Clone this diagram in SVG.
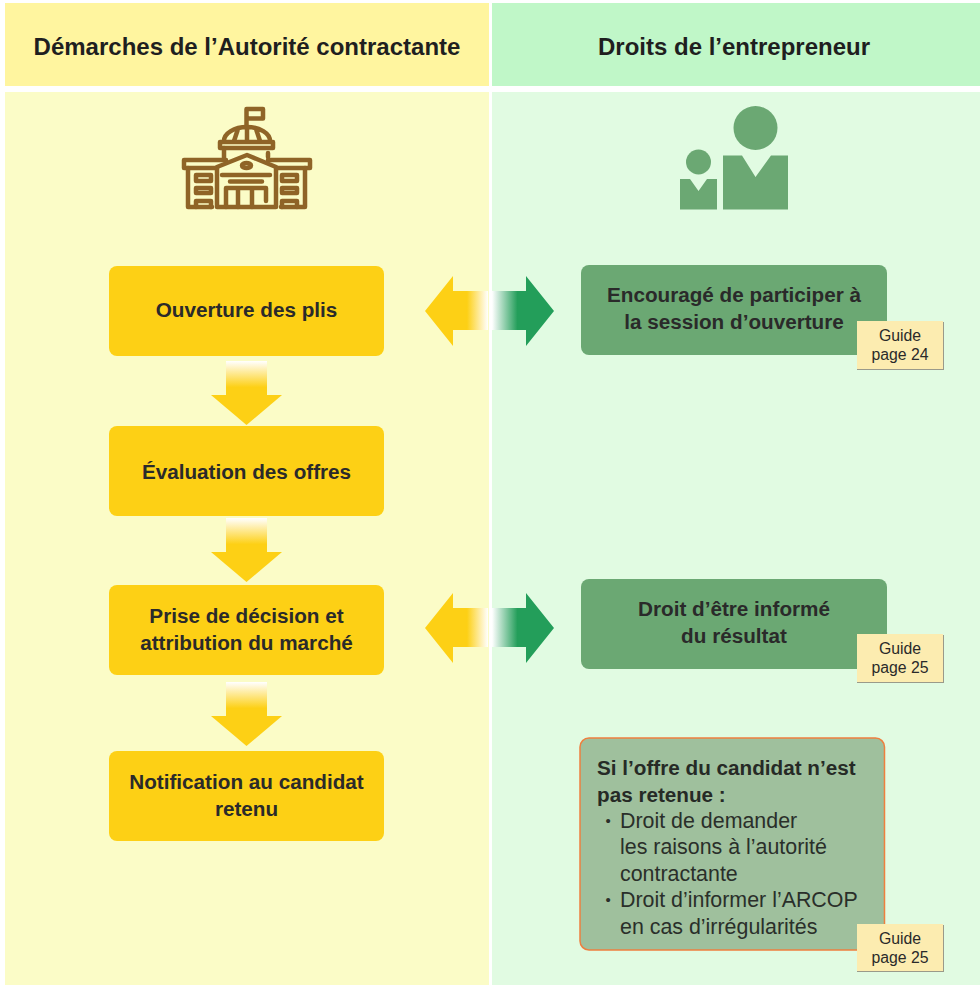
<svg xmlns="http://www.w3.org/2000/svg" width="980" height="985" viewBox="0 0 980 985">
<style>
text{font-family:"Liberation Sans",Arial,sans-serif}
.h{font-size:24px;font-weight:700;fill:#1f1f1f;text-anchor:middle}
.n{font-size:20.700px;font-weight:700;fill:#2a2a2a;text-anchor:middle}
.y{fill:#fdd015}
.g{fill:#6ba873}
.tag{fill:#fcecb0}
.tagshadow{fill:#9a9a8a}
.t{font-size:15.800px;fill:#2a2a2a;text-anchor:middle}
.b{font-size:21.400px;fill:#2a2f2a}
.dot{font-size:15px;fill:#2a2f2a}
.bb{font-size:20.700px;font-weight:700;fill:#262a26}
.ic{fill:none;stroke:#8f6427;stroke-width:4.500;stroke-linecap:round;stroke-linejoin:round}
</style>
<defs>
<linearGradient id="gl" x1="453" y1="0" x2="488" y2="0" gradientUnits="userSpaceOnUse"><stop offset="0.4" stop-color="#fdd015"/><stop offset="1" stop-color="#fff"/></linearGradient>
<linearGradient id="gr" x1="492" y1="0" x2="526" y2="0" gradientUnits="userSpaceOnUse"><stop offset="0" stop-color="#fff"/><stop offset="0.75" stop-color="#239e5a"/></linearGradient>
<linearGradient id="gd" x1="0" y1="0" x2="0" y2="1"><stop offset="0" stop-color="#fff"/><stop offset="0.75" stop-color="#fdd015"/></linearGradient>
<path id="la" d="M425 311L453 276V291H488V330H453V346Z" fill="url(#gl)"/>
<path id="ra" d="M554 311L526 276V291H492V330H526V346Z" fill="url(#gr)"/>
<g id="da"><rect x="226" y="0" width="41" height="35" fill="url(#gd)"/><path d="M211 34H282L246.500 64Z" class="y"/></g>
</defs>
<rect width="980" height="985" fill="#fff"/>
<g id="panels">
<rect x="5" y="3" width="484" height="83" fill="#fff59f"/>
<rect x="492" y="3" width="488" height="83" fill="#c0f7c8"/>
<rect x="5" y="92" width="484" height="893" fill="#fbfcc7"/>
<rect x="492" y="92" width="488" height="893" fill="#e1fbe2"/>
</g>
<g id="headers">
<text class="h" x="247" y="55">Démarches de l’Autorité contractante</text>
<text class="h" x="734" y="55">Droits de l’entrepreneur</text>
</g>
<g id="icon-building" class="ic">
<path d="M246.500 126V109H263V118.500H249"/>
<path d="M224 141a23 14 0 0 1 46 0M238 129L234 141M247 127V141M256 129L260 141"/>
<rect x="220" y="142" width="53" height="6"/>
<path d="M224 148V158M268 153V157"/>
<path d="M217 168H184V160H226M268 160H310V168H277"/>
<path d="M217 207V167L247 155L276 167V207H217Z"/>
<ellipse cx="246.500" cy="165.500" rx="4.500" ry="2.500"/>
<path d="M222 175H270M230 181.500H262M226 207V188H266V201M238 190V207M252 190V207"/>
<path d="M188 168V207H212M305 168V207H281"/>
<rect x="196" y="175" width="15" height="6"/><rect x="196" y="188" width="15" height="5"/><path d="M196 207V201H211V207"/>
<rect x="282" y="175" width="15" height="6"/><rect x="282" y="188" width="15" height="5"/><path d="M282 207V201H297V207"/>
</g>
<g id="icon-people" class="g">
<circle cx="755.500" cy="128" r="22"/>
<path d="M723 155.500H742L755.500 177L771 155.500H788V209.500H723Z"/>
<circle cx="698.500" cy="162" r="12.500"/>
<path d="M680 179H690L698.500 191L707 179H717V209.500H680Z"/>
</g>
<g id="connectors">
<use href="#la"/><use href="#ra"/>
<use href="#la" y="317"/><use href="#ra" y="317"/>
<use href="#da" y="361"/><use href="#da" y="518"/><use href="#da" y="682"/>
</g>
<g id="node-ouverture"><rect class="y" x="109" y="266" width="275" height="90" rx="8"/><text class="n" x="246.500" y="317">Ouverture des plis</text></g>
<g id="node-evaluation"><rect class="y" x="109" y="426" width="275" height="90" rx="8"/><text class="n" x="246.500" y="479">Évaluation des offres</text></g>
<g id="node-decision"><rect class="y" x="109" y="585" width="275" height="90" rx="8"/><text class="n" x="246.500" y="623">Prise de décision et</text><text class="n" x="246.500" y="650">attribution du marché</text></g>
<g id="node-notification"><rect class="y" x="109" y="751" width="275" height="90" rx="8"/><text class="n" x="246.500" y="789">Notification au candidat</text><text class="n" x="246.500" y="816">retenu</text></g>
<g id="node-encourage"><rect class="g" x="581" y="265" width="306" height="90" rx="8"/><text class="n" x="734" y="302">Encouragé de participer à</text><text class="n" x="734" y="329">la session d’ouverture</text></g>
<g id="guide-24"><rect class="tagshadow" x="857" y="322" width="87" height="48"/><rect class="tag" x="857" y="321" width="86" height="48"/><text class="t" x="900" y="341">Guide</text><text class="t" x="900" y="360">page 24</text></g>
<g id="node-droit"><rect class="g" x="581" y="579" width="306" height="90" rx="8"/><text class="n" x="734" y="616">Droit d’être informé</text><text class="n" x="734" y="643">du résultat</text></g>
<g id="guide-25a"><rect class="tagshadow" x="857" y="635" width="87" height="48"/><rect class="tag" x="857" y="634" width="86" height="48"/><text class="t" x="900" y="654">Guide</text><text class="t" x="900" y="673">page 25</text></g>
<g id="node-offre"><rect x="580" y="738" width="304.500" height="212" rx="9" fill="#9fc09d" stroke="#ee7f3f" stroke-width="1.500"/>
<text class="bb" x="597" y="775">Si l’offre du candidat n’est</text>
<text class="bb" x="597" y="802">pas retenue :</text>
<text class="dot" x="605.500" y="826">•</text><text class="b" x="620" y="828">Droit de demander</text>
<text class="b" x="620" y="854">les raisons à l’autorité</text>
<text class="b" x="620" y="881">contractante</text>
<text class="dot" x="605.500" y="905">•</text><text class="b" x="620" y="907">Droit d’informer l’ARCOP</text>
<text class="b" x="620" y="934">en cas d’irrégularités</text></g>
<g id="guide-25b"><rect class="tagshadow" x="857" y="925" width="87" height="47"/><rect class="tag" x="857" y="924" width="86" height="47"/><text class="t" x="900" y="944">Guide</text><text class="t" x="900" y="963">page 25</text></g>
</svg>
